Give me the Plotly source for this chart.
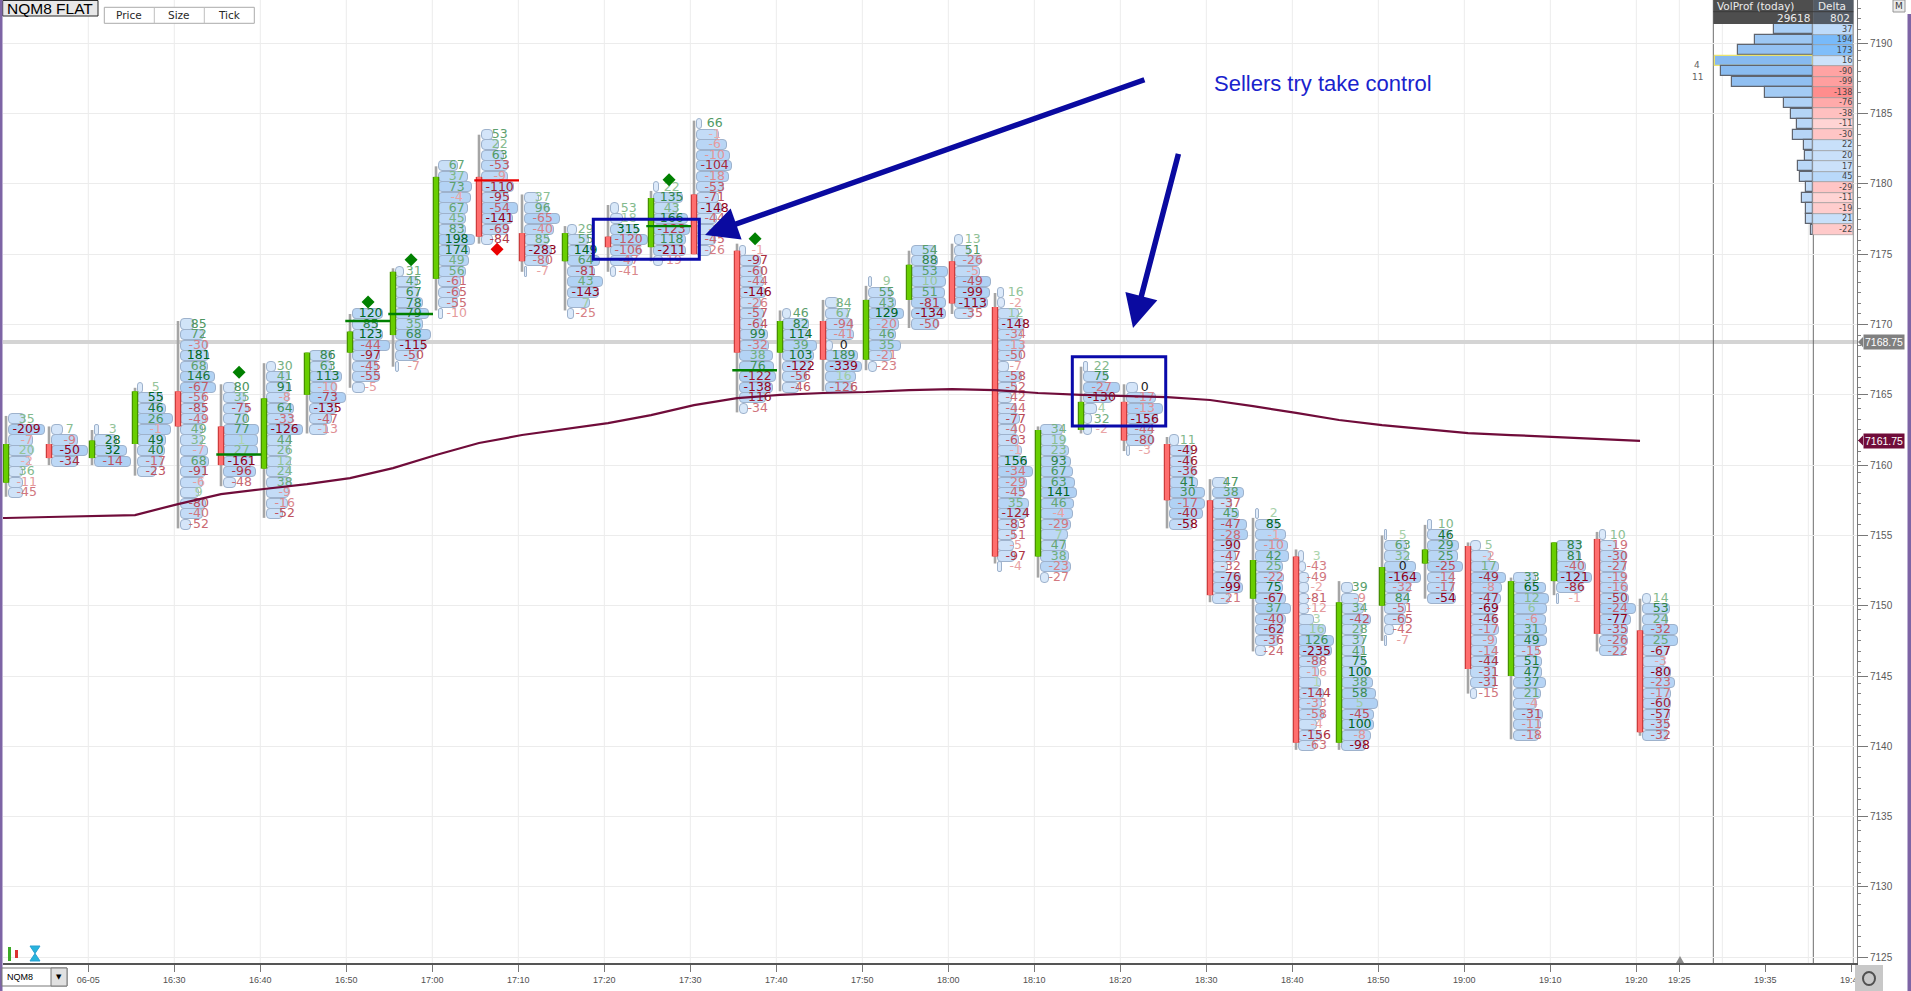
import plotly.graph_objects as go

# NQM8, 5 minute bars with footprint (delta per 0.75 row), 06-05
times = ["16:10", "16:15", "16:20", "16:25", "16:30", "16:35", "16:40", "16:45",
         "16:50", "16:55", "17:00", "17:05", "17:10", "17:15", "17:20", "17:25",
         "17:30", "17:35", "17:40", "17:45", "17:50", "17:55", "18:00", "18:05",
         "18:10", "18:15", "18:20", "18:25", "18:30", "18:35", "18:40", "18:45",
         "18:50", "18:55", "19:00", "19:05", "19:10", "19:15", "19:20"]
opens = [7158.75, 7161.5, 7160.5, 7161.5, 7165.25, 7162.75, 7159.75, 7165.0,
         7168.0, 7169.25, 7173.25, 7180.5, 7176.5, 7174.5, 7176.25, 7175.5,
         7179.25, 7175.25, 7168.0, 7170.25, 7167.5, 7171.75, 7174.5, 7171.25,
         7153.5, 7162.5, 7164.5, 7161.5, 7157.5, 7150.5, 7153.5, 7140.25,
         7150.0, 7153.0, 7154.25, 7145.0, 7151.75, 7154.75, 7148.25]
highs = [7163.5, 7162.75, 7162.5, 7165.5, 7170.25, 7165.75, 7167.25, 7168.0,
         7170.75, 7174.0, 7181.25, 7183.5, 7179.25, 7177.0, 7178.5, 7179.5,
         7184.5, 7175.75, 7171.0, 7171.75, 7172.75, 7175.25, 7175.75, 7172.25,
         7162.75, 7167.0, 7165.75, 7162.0, 7159.0, 7156.25, 7154.0, 7151.75,
         7155.0, 7155.75, 7154.5, 7152.0, 7154.5, 7155.25, 7150.5]
lows = [7157.75, 7160.0, 7160.0, 7159.25, 7155.5, 7158.5, 7156.25, 7162.25,
        7165.5, 7167.0, 7171.0, 7175.75, 7173.75, 7171.0, 7173.75, 7174.5,
        7175.0, 7163.75, 7165.25, 7165.25, 7166.75, 7169.75, 7170.75, 7153.0,
        7152.0, 7162.25, 7161.0, 7155.5, 7150.25, 7146.75, 7139.75, 7139.75,
        7147.5, 7150.5, 7143.75, 7140.5, 7150.75, 7146.75, 7140.75]
closes = [7161.5, 7160.5, 7161.75, 7165.25, 7162.75, 7160.0, 7164.75, 7168.0,
          7169.5, 7173.75, 7180.5, 7176.25, 7174.5, 7176.5, 7175.5, 7179.0,
          7175.0, 7168.0, 7170.25, 7167.5, 7171.75, 7174.25, 7171.5, 7153.5,
          7162.5, 7164.5, 7161.75, 7157.5, 7150.75, 7153.25, 7140.25, 7150.25,
          7152.75, 7154.0, 7145.5, 7151.75, 7154.5, 7148.0, 7141.0]
top_rows = [7163.25, 7162.5, 7162.5, 7165.5, 7170.0, 7165.5, 7167.0, 7167.75,
            7170.75, 7173.75, 7181.25, 7183.5, 7179.0, 7176.75, 7178.25, 7179.75,
            7184.25, 7175.25, 7170.75, 7171.5, 7173.0, 7175.25, 7176.0, 7172.25,
            7162.5, 7167.0, 7165.5, 7161.75, 7158.75, 7156.5, 7153.5, 7151.25,
            7155.0, 7155.75, 7154.25, 7152.0, 7154.25, 7155.0, 7150.5]

# delta per row, top to bottom
deltas = [
    [35, -209, -7, 20, -2, 36, -11, -45],
    [7, -9, -50, -34],
    [3, 28, 32, -14],
    [5, 55, 46, 26, -1, 49, 40, -17, -23],
    [85, 72, -30, 181, 68, 146, -67, -56, -85, -49, 49, 32, -7, 68, -91, -6, 9, -80, -40, -52],
    [80, 35, -75, 70, 77, 1, 27, -161, -96, -48],
    [30, 41, 91, -8, 64, -33, -126, 44, 26, 12, 24, 38, -9, -16, -52],
    [86, 63, 113, -10, -73, -135, -47, -13],
    [120, 85, 123, -44, -97, -45, -55, -5],
    [31, 45, 67, 78, 79, 35, 68, -115, -50, -7],
    [67, 37, 73, -4, 67, 45, 83, 198, 174, 49, 56, -61, -65, -55, -10],
    [53, 22, 63, -53, -9, -110, -95, -54, -141, -69, -84],
    [37, 96, -65, -40, 85, -283, -80, -7],
    [29, 55, 149, 64, -81, 43, -143, 7, -25],
    [53, 18, 315, -120, -106, -47, -41],
    [22, 135, 43, 166, -123, 118, -211, -19],
    [66, -1, -6, -10, -104, -18, -53, -71, -148, -44, -8, -45, -26],
    [-1, -97, -60, -44, -146, -26, -57, -64, 99, -32, 38, 76, -122, -138, -116, -34],
    [46, 82, 114, 39, 103, -122, -56, -46],
    [84, 67, -94, -41, 0, 189, -339, 16, -126],
    [9, 55, 43, 129, -20, 46, 35, -21, -23],
    [54, 88, 53, 10, 51, -81, -134, -50],
    [13, 51, -26, -5, -49, -99, -113, -35],
    [16, -2, 12, -148, -34, -13, -50, -7, -58, -52, -42, -44, -77, -40, -63, -1, 156,
     -34, -29, -45, 35, -124, -83, -51, -5, -97, -4],
    [34, 19, 23, 93, 67, 63, 141, 46, -4, -29, 7, 47, 38, -23, -27],
    [22, 75, -27, -130, 4, 32, -2],
    [0, -17, -13, -156, -44, -80, -3],
    [11, -49, -46, -36, 41, 30, -17, -40, -58],
    [47, 38, -37, 45, -47, -28, -90, -47, -32, -76, -99, -21],
    [2, 85, -1, -10, 42, 25, -22, 75, -67, 37, -40, -62, -36, -24],
    [3, -43, -49, -2, -81, -12, 3, 16, 126, -235, -88, -16, 1, -144, -33, -58, -4, -156, -63],
    [39, -9, 34, -42, 28, 37, 41, 75, 100, 38, 58, 5, -45, 100, -8, -98],
    [5, 63, 32, 0, -164, -32, 84, -51, -65, -42, -7],
    [10, 46, 29, 25, -25, -14, -17, -54],
    [5, -2, 17, -49, -8, -47, -69, -46, -17, -9, -14, -44, -31, -31, -15],
    [33, 65, 12, 6, -6, 31, 49, -15, 51, 47, 37, 21, -4, -31, -11, -18],
    [83, 81, -40, -121, -86, -1],
    [10, -19, -30, -27, -19, -16, -50, -24, -77, -35, -26, -22],
    [14, 53, 24, -32, 25, -67, -3, -80, -23, -17, -60, -57, -35, -32],
]

# relative row volume
row_vols = [
    [16, 36, 24, 24, 21, 14, 14, 14],
    [11, 26, 36, 26],
    [4, 22, 32, 36],
    [5, 25, 28, 35, 33, 28, 27, 25, 18],
    [13, 23, 26, 28, 27, 34, 35, 25, 25, 25, 22, 22, 27, 28, 25, 22, 18, 25, 22, 10],
    [12, 22, 25, 23, 35, 34, 34, 28, 32, 12],
    [9, 22, 24, 22, 27, 26, 36, 24, 23, 24, 23, 24, 22, 21, 16],
    [22, 22, 32, 27, 36, 27, 22, 18],
    [30, 25, 30, 37, 27, 25, 27, 12],
    [8, 22, 23, 27, 33, 27, 35, 29, 23, 3],
    [19, 29, 33, 32, 29, 27, 27, 36, 31, 30, 27, 22, 21, 19, 4],
    [11, 17, 22, 26, 26, 32, 27, 36, 31, 26, 11],
    [14, 24, 35, 29, 24, 27, 24, 2],
    [9, 21, 27, 32, 27, 35, 31, 22, 6],
    [8, 12, 27, 37, 30, 22, 5],
    [5, 29, 24, 34, 36, 32, 32, 9],
    [5, 22, 30, 33, 35, 32, 27, 22, 25, 20, 19, 19, 14],
    [6, 21, 23, 24, 26, 21, 24, 23, 28, 29, 33, 34, 36, 33, 26, 8],
    [8, 26, 26, 34, 31, 28, 24, 16],
    [13, 23, 27, 28, 7, 32, 36, 30, 27],
    [3, 23, 27, 35, 30, 27, 32, 23, 8],
    [24, 26, 36, 34, 33, 34, 34, 26],
    [8, 15, 26, 25, 36, 35, 33, 18],
    [6, 7, 21, 27, 24, 26, 24, 11, 24, 19, 14, 19, 22, 19, 21, 24, 29, 35, 29, 26, 31,
     29, 21, 17, 16, 17, 4],
    [22, 24, 28, 30, 32, 34, 36, 33, 32, 30, 27, 25, 28, 30, 8],
    [4, 24, 36, 29, 13, 8, 8],
    [11, 29, 36, 31, 26, 26, 3],
    [9, 23, 23, 26, 28, 35, 35, 33, 23],
    [14, 31, 19, 26, 34, 35, 27, 23, 15, 28, 30, 17],
    [3, 23, 30, 32, 33, 27, 28, 27, 30, 35, 30, 28, 23, 10],
    [5, 7, 10, 10, 10, 10, 15, 27, 35, 33, 22, 20, 22, 25, 23, 25, 18, 23, 17],
    [11, 17, 22, 29, 21, 22, 21, 24, 27, 31, 34, 36, 32, 32, 29, 24],
    [2, 22, 24, 31, 36, 26, 24, 21, 21, 9, 2],
    [4, 23, 31, 30, 35, 26, 26, 28],
    [10, 20, 28, 35, 31, 30, 26, 26, 28, 26, 26, 26, 25, 25, 6],
    [22, 32, 35, 33, 32, 33, 33, 25, 28, 28, 32, 27, 23, 29, 27, 25],
    [24, 24, 29, 35, 26, 2],
    [6, 16, 26, 26, 26, 28, 29, 36, 31, 28, 28, 26],
    [8, 27, 25, 35, 35, 25, 22, 28, 32, 28, 28, 27, 26, 25],
]

vwap = [7156.24, 7156.31, 7156.38, 7156.45, 7157.23, 7157.94, 7158.30, 7158.65,
        7159.08, 7159.79, 7160.72, 7161.57, 7162.14, 7162.57, 7162.99, 7163.56,
        7164.27, 7164.77, 7164.99, 7165.13, 7165.20, 7165.34, 7165.41, 7165.34,
        7165.13, 7164.99, 7164.92, 7164.84, 7164.63, 7164.20, 7163.71, 7163.21,
        7162.85, 7162.57, 7162.28, 7162.14, 7162.00, 7161.86, 7161.72]

poc_times = ["16:35", "16:50", "16:55", "17:05", "17:25", "17:35"]
poc_prices = [7160.75, 7170.25, 7170.75, 7180.25, 7177.0, 7166.75]
poc_side = ["buy", "buy", "buy", "sell", "buy", "buy"]
dot_prices = [7166.6, 7171.6, 7174.6, 7175.35, 7180.3, 7176.1]

# today's volume profile (VolProf / Delta panel)
vp_top = 7191.0
vp_vol = [1760, 2610, 3380, 4420, 4150, 3650, 2160, 1310, 990, 720,
          900, 410, 360, 680, 590, 320, 500, 320, 320, 90]
vp_delta = [37, 194, 173, 16, -90, -99, -138, -76, -38, -11,
            -30, 22, 20, 17, 45, -29, -11, -19, 21, -22]
vp_total, vp_delta_total = 29618, 802

last_price = 7168.75
vwap_last = 7161.75

tick_times = ["16:20", "16:30", "16:40", "16:50", "17:00", "17:10", "17:20", "17:30",
              "17:40", "17:50", "18:00", "18:10", "18:20", "18:30", "18:40", "18:50",
              "19:00", "19:10", "19:20", "19:25", "19:35", "19:45"]
tick_text = ["06-05"] + tick_times[1:]
grid_times = tick_times[:19] + ["19:25", "19:30", "19:40"]


def mins(s):
    h, m = s.split(":")
    return (int(h) - 16) * 60 + int(m)


PX_MIN = 8.6          # pixels per minute on the time axis
SHIFT = 0.43          # bar drawn a little right of its time stamp
X0, X1 = 10.08, 225.66
Y0, Y1 = 7124.59, 7193.08
VP_SCALE = 45.0       # profile volume per pixel


def mix(a, b, f):
    return "rgb(%d,%d,%d)" % tuple(round(x + (y - x) * f) for x, y in zip(a, b))


def text_color(v, vmax):
    if v == 0:
        return "rgb(35,35,35)"
    f = min(1.0, (abs(v) / vmax) ** 0.75)
    if v > 0:
        return mix((178, 216, 178), (0, 100, 35), f)
    return mix((238, 172, 172), (145, 0, 25), f)


def bar_color(v):
    return mix((228, 238, 251), (176, 209, 244), min(1.0, v / 36.0))


cx = [mins(t) + SHIFT for t in times]

bx, by, bl, bc = [], [], [], []
tx, ty, tt, tc = [], [], [], []
for x, top, ds, vs in zip(cx, top_rows, deltas, row_vols):
    dmax = max(abs(d) for d in ds)
    for i, (d, v) in enumerate(zip(ds, vs)):
        p = top - 0.75 * i
        bx.append(x + 0.4)
        by.append(p)
        bl.append(v / PX_MIN)
        bc.append(bar_color(v))
        tx.append(x + 2.4)
        ty.append(p)
        tt.append(str(d))
        tc.append(text_color(d, dmax))

fig = go.Figure()

# footprint rows
fig.add_trace(go.Bar(orientation="h", x=bl, y=by, base=bx, width=0.72,
                     marker=dict(color=bc, line=dict(color="rgb(158,178,204)", width=1),
                                 cornerradius=4),
                     hoverinfo="skip"))

# wicks
wx, wy = [], []
for x, h, l in zip(cx, highs, lows):
    wx += [x, x, None]
    wy += [l, h, None]
fig.add_trace(go.Scatter(x=wx, y=wy, mode="lines", hoverinfo="skip",
                         line=dict(color="rgb(165,165,165)", width=2.6)))

# bodies
for up, edge, fill in [(True, "rgb(70,145,0)", "rgb(104,206,0)"),
                       (False, "rgb(205,60,60)", "rgb(255,110,110)")]:
    ox, oy = [], []
    for x, o, c in zip(cx, opens, closes):
        if (c > o) == up:
            ox += [x, x, None]
            oy += [o, c, None]
    fig.add_trace(go.Scatter(x=ox, y=oy, mode="lines", hoverinfo="skip",
                             line=dict(color=edge, width=6.5)))
    fig.add_trace(go.Scatter(x=ox, y=oy, mode="lines", hoverinfo="skip",
                             line=dict(color=fill, width=4)))

# delta numbers
fig.add_trace(go.Scatter(x=tx, y=ty, text=tt, mode="text", hoverinfo="skip",
                         textposition="middle center",
                         textfont=dict(family="DejaVu Sans", size=12.5, color=tc)))

# VWAP
fig.add_trace(go.Scatter(x=[X0] + cx, y=[vwap[0]] + vwap, mode="lines", hoverinfo="skip",
                         line=dict(color="rgb(112,12,58)", width=2.2)))

# POC markers and diamonds
for side, col in [("buy", "rgb(0,128,0)"), ("sell", "rgb(235,0,0)")]:
    lx, ly, dx, dy = [], [], [], []
    for t, p, s, dp in zip(poc_times, poc_prices, poc_side, dot_prices):
        if s != side:
            continue
        x = mins(t) + SHIFT
        lx += [x - 0.55, x + 4.65, None]
        ly += [p, p, None]
        dx.append(x + 2.1)
        dy.append(dp)
    fig.add_trace(go.Scatter(x=lx, y=ly, mode="lines", hoverinfo="skip",
                             line=dict(color=col, width=2.4)))
    fig.add_trace(go.Scatter(x=dx, y=dy, mode="markers", hoverinfo="skip",
                             marker=dict(symbol="diamond", size=10, color=col)))

# volume profile panel (on an overlaid x axis, grows to the left)
vp_rows = [vp_top - 0.75 * i for i in range(len(vp_vol))]
vmax = max(vp_vol)
dmax = max(abs(d) for d in vp_delta)
vp_cols = [mix((200, 224, 249), (135, 186, 240), (v / vmax) ** 0.8) for v in vp_vol]
vp_line = ["rgb(235,228,110)" if v == vmax else "rgb(95,100,110)" for v in vp_vol]
fig.add_trace(go.Bar(orientation="h", x=vp_vol, y=vp_rows, base=0, width=0.72,
                     xaxis="x2", yaxis="y", hoverinfo="skip",
                     marker=dict(color=vp_cols, line=dict(color=vp_line, width=1.2))))
dcols = []
for d in vp_delta:
    f = (abs(d) / dmax) ** 0.7
    dcols.append(mix((222, 234, 250), (120, 186, 250), f) if d > 0
                 else mix((255, 226, 226), (255, 118, 118), f))
fig.add_trace(go.Bar(orientation="h", x=[-40 * VP_SCALE] * len(vp_delta), y=vp_rows,
                     base=0, width=0.75, xaxis="x2", yaxis="y", hoverinfo="skip",
                     marker=dict(color=dcols, line=dict(color="rgb(150,150,150)", width=0.6))))
fig.add_trace(go.Scatter(x=[-39 * VP_SCALE] * len(vp_delta), y=vp_rows,
                         text=[str(d) for d in vp_delta], mode="text",
                         textposition="middle left", xaxis="x2", yaxis="y",
                         hoverinfo="skip",
                         textfont=dict(family="DejaVu Sans Condensed, DejaVu Sans",
                                       size=9, color="rgb(70,70,70)")))


def px_to_t(px):
    return 30 + (px - 174.3) / PX_MIN


def px_to_p(py):
    return 7190 - (py - 43.3) / 14.06


def pxx(px):
    return (px - 3) / 1854.0


def pxy(py):
    return 1 - py / 963.0


shapes = []
# vertical grid
for t in grid_times:
    shapes.append(dict(type="line", xref="x", yref="paper", x0=mins(t), x1=mins(t),
                       y0=0, y1=1, layer="below",
                       line=dict(color="rgb(236,236,236)", width=1)))
# last price line
shapes.append(dict(type="line", xref="paper", yref="y", x0=0, x1=1,
                   y0=last_price, y1=last_price, layer="below",
                   line=dict(color="rgb(212,212,212)", width=4)))
# panel borders
for px, col in [(1713.3, "rgb(110,110,110)"), (1813.3, "rgb(110,110,110)"),
                (1853.3, "rgb(150,150,150)")]:
    shapes.append(dict(type="line", xref="x", yref="paper", x0=px_to_t(px), x1=px_to_t(px),
                       y0=0, y1=1, layer="below", line=dict(color=col, width=1)))
# panel header
shapes.append(dict(type="rect", xref="x", yref="paper", x0=px_to_t(1713.3), x1=px_to_t(1813.3),
                   y0=pxy(24), y1=1, fillcolor="rgb(78,78,78)", line=dict(width=0),
                   layer="above"))
shapes.append(dict(type="rect", xref="x", yref="paper", x0=px_to_t(1813.3), x1=px_to_t(1853.3),
                   y0=pxy(24), y1=1, fillcolor="rgb(84,92,102)", line=dict(width=0),
                   layer="above"))
shapes.append(dict(type="line", xref="x", yref="paper", x0=px_to_t(1713.3), x1=px_to_t(1853.3),
                   y0=pxy(11.7), y1=pxy(11.7), layer="above",
                   line=dict(color="rgb(60,60,60)", width=1)))
# blue drawing boxes
for (a, b, c, d) in [(593.3, 699.3, 219.3, 259.3), (1072.3, 1165.7, 356.7, 426.0)]:
    shapes.append(dict(type="rect", xref="x", yref="y", x0=px_to_t(a), x1=px_to_t(b),
                       y0=px_to_p(d), y1=px_to_p(c), layer="above",
                       line=dict(color="rgb(10,10,170)", width=3)))
# top-left instrument label and buttons
shapes.append(dict(type="rect", xref="paper", yref="paper", x0=pxx(2.7), x1=pxx(98),
                   y0=pxy(16), y1=pxy(0.5), fillcolor="rgb(232,232,232)",
                   line=dict(color="rgb(40,40,40)", width=1), layer="above"))
shapes.append(dict(type="rect", xref="paper", yref="paper", x0=pxx(104.3), x1=pxx(254.3),
                   y0=pxy(23.3), y1=pxy(7.3), fillcolor="white",
                   line=dict(color="rgb(170,170,170)", width=1), layer="above"))
for px in (154.3, 204.3):
    shapes.append(dict(type="line", xref="paper", yref="paper", x0=pxx(px), x1=pxx(px),
                       y0=pxy(23.3), y1=pxy(7.3), layer="above",
                       line=dict(color="rgb(190,190,190)", width=1)))
# price tags pointers
for p, col in [(last_price, "rgb(128,128,128)"), (vwap_last, "rgb(112,12,58)")]:
    shapes.append(dict(type="path", xref="paper", yref="y", layer="above",
                       path="M %f,%f L %f,%f L %f,%f Z" % (
                           pxx(1858), p, pxx(1863), p + 0.36, pxx(1863), p - 0.36),
                       fillcolor=col, line=dict(width=0)))
# window edges and small controls
shapes.append(dict(type="rect", xref="paper", yref="paper", x0=pxx(0), x1=pxx(2.5),
                   y0=pxy(991), y1=pxy(0), fillcolor="rgb(125,100,165)",
                   line=dict(width=0), layer="above"))
shapes.append(dict(type="rect", xref="paper", yref="paper", x0=pxx(1907.5), x1=pxx(1911),
                   y0=pxy(991), y1=pxy(14), fillcolor="rgb(125,100,165)",
                   line=dict(width=0), layer="above"))
shapes.append(dict(type="rect", xref="paper", yref="paper", x0=pxx(1893), x1=pxx(1905),
                   y0=pxy(12), y1=pxy(0), fillcolor="rgb(236,236,236)",
                   line=dict(color="rgb(150,150,150)", width=1), layer="above"))
shapes.append(dict(type="rect", xref="paper", yref="paper", x0=pxx(1855), x1=pxx(1883),
                   y0=pxy(991), y1=pxy(965), fillcolor="rgb(200,200,200)",
                   line=dict(width=0), layer="above"))
shapes.append(dict(type="circle", xref="paper", yref="paper", x0=pxx(1863), x1=pxx(1875),
                   y0=pxy(985), y1=pxy(972), line=dict(color="rgb(80,80,80)", width=2),
                   layer="above"))
shapes.append(dict(type="rect", xref="paper", yref="paper", x0=pxx(2), x1=pxx(67),
                   y0=pxy(986), y1=pxy(968), fillcolor="white",
                   line=dict(color="rgb(120,120,120)", width=1), layer="above"))
shapes.append(dict(type="rect", xref="paper", yref="paper", x0=pxx(51), x1=pxx(67),
                   y0=pxy(986), y1=pxy(968), fillcolor="rgb(225,225,225)",
                   line=dict(color="rgb(120,120,120)", width=1), layer="above"))
shapes.append(dict(type="path", xref="paper", yref="paper", layer="above",
                   path="M %f,%f L %f,%f L %f,%f Z" % (pxx(1676), pxy(963), pxx(1684), pxy(963),
                                                      pxx(1680), pxy(956)),
                   fillcolor="rgb(140,140,140)", line=dict(width=0)))
# chart-type / timer icons
shapes.append(dict(type="rect", xref="paper", yref="paper", x0=pxx(8), x1=pxx(11),
                   y0=pxy(961), y1=pxy(947), fillcolor="rgb(60,170,40)",
                   line=dict(width=0), layer="above"))
shapes.append(dict(type="rect", xref="paper", yref="paper", x0=pxx(15), x1=pxx(18),
                   y0=pxy(958), y1=pxy(950), fillcolor="rgb(220,50,50)",
                   line=dict(width=0), layer="above"))
shapes.append(dict(type="path", xref="paper", yref="paper", layer="above",
                   path="M %f,%f L %f,%f L %f,%f L %f,%f Z" % (
                       pxx(30), pxy(946), pxx(40), pxy(946), pxx(30), pxy(961), pxx(40), pxy(961)),
                   fillcolor="rgb(40,180,220)", line=dict(color="rgb(40,160,210)", width=1)))


def label(x, y, text, size, color, family="DejaVu Sans", xanchor="center",
          xref="paper", yref="paper", **kw):
    return dict(xref=xref, yref=yref, x=x, y=y, text=text, showarrow=False,
                xanchor=xanchor, yanchor="middle",
                font=dict(family=family, size=size, color=color), **kw)


ann = []
ann.append(label(pxx(50), pxy(8.5), "NQM8 FLAT", 15.5, "black", family="Liberation Sans"))
for name, px in [("Price", 129.3), ("Size", 179.3), ("Tick", 229.3)]:
    ann.append(label(pxx(px), pxy(15.5), name, 10.5, "rgb(40,40,40)"))
ann.append(label(px_to_t(1322.5), px_to_p(83), "Sellers try take control", 22,
                 "rgb(25,35,205)", family="Liberation Sans", xref="x", yref="y"))
for (hx, hy, txp, typ) in [(705, 235, 1145.9, 79.2), (1133, 328, 1178.8, 152.4)]:
    ann.append(dict(x=px_to_t(hx), y=px_to_p(hy), ax=px_to_t(txp), ay=px_to_p(typ),
                    xref="x", yref="y", axref="x", ayref="y", text="", showarrow=True,
                    arrowhead=2, arrowsize=1.2, arrowwidth=5.5, arrowcolor="rgb(10,10,160)",
                    standoff=0))
# panel header text
hc = "rgb(235,235,235)"
ann.append(label(px_to_t(1715), pxy(6), "VolProf (today)", 10.5, hc, xanchor="left", xref="x"))
ann.append(label(px_to_t(1812), pxy(18), str(vp_total), 10.5, hc, xanchor="right", xref="x"))
ann.append(label(px_to_t(1816), pxy(6), "Delta", 10.5, hc, xanchor="left", xref="x"))
ann.append(label(px_to_t(1852), pxy(18), str(vp_delta_total), 10.5, hc, xanchor="right", xref="x"))
for txt, py in [("4", 65), ("11", 77)]:
    ann.append(label(px_to_t(1697), px_to_p(py), txt, 9, "rgb(100,100,100)", xref="x", yref="y"))
# price tags on the axis
for p, bg in [(last_price, "rgb(128,128,128)"), (vwap_last, "rgb(112,12,58)")]:
    ann.append(label(pxx(1863), p, "%.2f" % p, 10.5, "white", family="Liberation Sans",
                     xanchor="left", yref="y", bgcolor=bg, borderpad=1))
ann.append(label(pxx(1899), pxy(6), "M", 9, "rgb(60,60,60)"))
ann.append(label(pxx(5), pxy(977), "NQM8", 9, "black", family="Liberation Sans", xanchor="left"))
ann.append(label(pxx(59), pxy(977), "▼", 7, "black"))

fig.update_layout(
    width=1911, height=991,
    margin=dict(l=3, r=54, t=0, b=28),
    paper_bgcolor="white", plot_bgcolor="white",
    showlegend=False, barmode="overlay", bargap=0,
    shapes=shapes, annotations=ann,
    xaxis=dict(range=[X0, X1], tickmode="array",
               tickvals=[mins(t) for t in tick_times], ticktext=tick_text,
               showgrid=False, zeroline=False, ticks="outside", ticklen=7,
               tickcolor="rgb(120,120,120)", showline=True, linecolor="rgb(85,85,85)",
               linewidth=2, tickfont=dict(family="Liberation Sans", size=9, color="rgb(80,80,80)")),
    xaxis2=dict(overlaying="x", anchor="y", visible=False,
                range=[(1813.3 - 3) * VP_SCALE, -(1857 - 1813.3) * VP_SCALE]),
    yaxis=dict(side="right", range=[Y0, Y1], tick0=0, dtick=5, showgrid=True,
               gridcolor="rgb(236,236,236)", zeroline=False, ticks="outside", ticklen=10,
               tickcolor="rgb(120,120,120)", showline=True, linecolor="rgb(120,120,120)",
               linewidth=1,
               minor=dict(tick0=0, dtick=0.75, ticks="outside", ticklen=3,
                          tickcolor="rgb(130,130,130)", showgrid=False),
               tickfont=dict(family="Liberation Sans", size=10, color="rgb(90,90,90)")),
)

# the page body has a default margin; drop it so the chart sits at the window corner
fig.write_html("out.html", config={"displayModeBar": False},
               post_script="document.body.style.margin='0px';")
